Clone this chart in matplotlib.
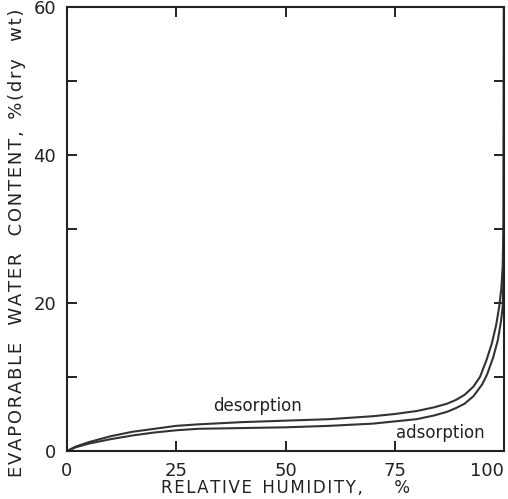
import matplotlib.pyplot as plt
import numpy as np

# Sorption isotherms
rh_des = [0, 2, 5, 10, 15, 20, 25, 30, 40, 50, 60, 70, 75, 80, 84, 87, 89, 91,
          93, 94.5, 96, 97.2, 98.2, 98.9, 99.4, 99.7, 99.85, 99.95]
w_des = [0, 0.6, 1.2, 2.0, 2.6, 3.0, 3.4, 3.6, 3.9, 4.1, 4.3, 4.7, 5.0, 5.4,
         5.9, 6.4, 6.9, 7.6, 8.7, 10.0, 12.3, 14.5, 17.0, 19.5, 22.0, 25.0, 30.0, 60.0]

rh_ads = [0, 2, 5, 10, 15, 20, 25, 30, 40, 50, 60, 70, 75, 80, 84, 87, 89, 91,
          93, 95, 96.1, 97.5, 98.6, 99.3, 99.7, 99.9, 99.97]
w_ads = [0, 0.5, 1.0, 1.6, 2.1, 2.5, 2.8, 3.0, 3.1, 3.2, 3.4, 3.7, 4.0, 4.3,
         4.8, 5.3, 5.8, 6.4, 7.4, 9.0, 10.3, 12.6, 15.0, 17.5, 19.5, 24.0, 30.0]

x_ticks = [0, 25, 50, 75, 100]
x_labels = ["0", "25", "50", "75", "100"]
y_ticks = [0, 20, 40, 60]


def spaced(s):
    # wide letter spacing like the original lettering
    return "\u200a".join(s)


plt.rcParams["font.family"] = "DejaVu Sans"

fig = plt.figure(figsize=(5.08, 4.99), dpi=100)
ax = fig.add_axes([67 / 508, 48 / 499, 437 / 508, 444 / 499])

line_col = "#333333"
ax.plot(rh_des, w_des, color=line_col, linewidth=1.5)
ax.plot(rh_ads, w_ads, color=line_col, linewidth=1.5)

ax.set_xlim(0, 100)
ax.set_ylim(0, 60)

ax.set_xticks(x_ticks)
ax.set_xticklabels(x_labels)
ax.set_yticks(y_ticks)
ax.set_yticks([10, 30, 50], minor=True)
ax.tick_params(axis="both", which="both", direction="in", top=True, right=True,
               width=1.4, color="#222222", labelsize=13, labelcolor="#222222")
ax.tick_params(axis="both", which="major", length=7, pad=8)
ax.tick_params(axis="both", which="minor", length=7)
ax.get_xticklabels()[-1].set_ha("right")

for s in ax.spines.values():
    s.set_linewidth(1.5)
    s.set_color("#222222")

ax.text(43.5, 5.4, "desorption", fontsize=12, ha="center", va="baseline", color="#222222")
ax.text(85.5, 1.8, "adsorption", fontsize=12, ha="center", va="baseline", color="#222222")

ax.set_xlabel(spaced("RELATIVE") + "  " + spaced("HUMIDITY,") + "      %",
              fontsize=12, color="#222222")
ax.xaxis.set_label_coords(0.5, -0.063)
ax.xaxis.label.set_va("top")
ax.set_ylabel(spaced("EVAPORABLE") + "   " + spaced("WATER") + "   "
              + spaced("CONTENT,") + "  " + spaced("%(dry") + "   " + spaced("wt)"),
              fontsize=13, color="#222222")
ax.yaxis.set_label_coords(-0.094, 0.47)

fig.savefig("out.png", dpi=100)
